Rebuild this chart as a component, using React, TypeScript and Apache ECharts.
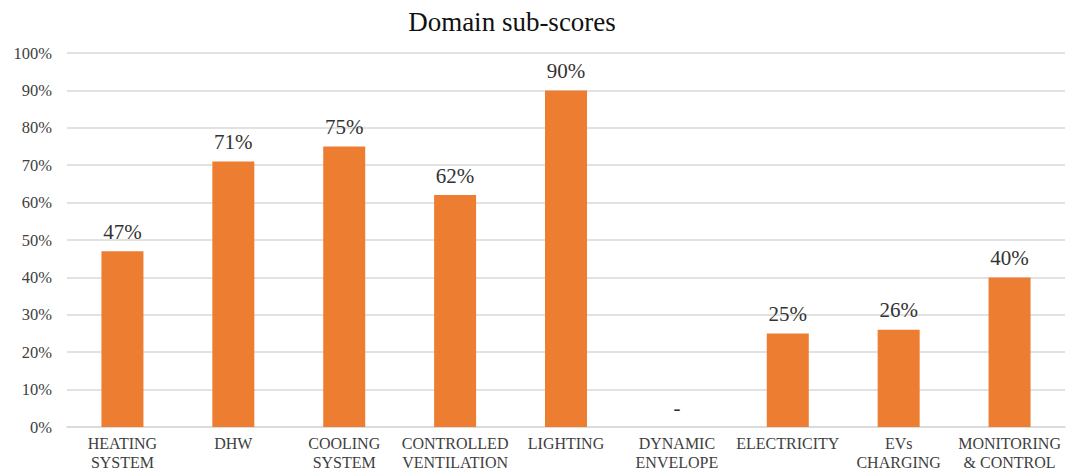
import React, { useEffect, useRef } from "react";
import * as echarts from "echarts";

const categories = [
  "HEATING\nSYSTEM",
  "DHW",
  "COOLING\nSYSTEM",
  "CONTROLLED\nVENTILATION",
  "LIGHTING",
  "DYNAMIC\nENVELOPE",
  "ELECTRICITY",
  "EVs\nCHARGING",
  "MONITORING\n& CONTROL",
];
const scores = [47, 71, 75, 62, 90, 0, 25, 26, 40];
const yTicks = { min: 0, max: 100, interval: 10 };

const FONT = "'Times New Roman', 'Liberation Serif', serif";

export default function App() {
  const ref = useRef<HTMLDivElement>(null);
  useEffect(() => {
    const chart = echarts.init(ref.current!, null, { renderer: "svg" });
    chart.setOption({
      animation: false,
      backgroundColor: "#ffffff",
      textStyle: { fontFamily: FONT },
      title: {
        text: "Domain sub-scores",
        left: 507,
        textAlign: "center",
        top: 3,
        textStyle: { fontFamily: FONT, fontSize: 27, fontWeight: "normal", color: "#111" },
      },
      grid: { left: 67, right: 10, top: 53, bottom: 45, containLabel: false },
      xAxis: {
        type: "category",
        data: categories,
        axisLine: { show: true, lineStyle: { color: "#d9d9d9", width: 1.5 } },
        axisTick: { show: false },
        axisLabel: {
          interval: 0,
          fontFamily: FONT,
          fontSize: 16,
          color: "#404040",
          lineHeight: 19,
          margin: 7,
        },
      },
      yAxis: {
        type: "value",
        min: yTicks.min,
        max: yTicks.max,
        interval: yTicks.interval,
        axisLine: { show: false },
        axisTick: { show: false },
        splitLine: { lineStyle: { color: "#d9d9d9", width: 1.5 } },
        axisLabel: {
          fontFamily: FONT,
          fontSize: 16.5,
          color: "#404040",
          margin: 15,
          formatter: (v: number) => v + "%",
        },
      },
      series: [
        {
          type: "bar",
          data: scores,
          barWidth: 42,
          itemStyle: { color: "#ED7D31" },
          label: {
            show: true,
            position: "top",
            distance: 9,
            fontFamily: FONT,
            fontSize: 21,
            color: "#333",
            formatter: (p: any) => (p.value === 0 ? "-" : p.value + "%"),
          },
        },
      ],
    });
    return () => chart.dispose();
  }, []);
  return (
    <div
      ref={ref}
      style={{ position: "fixed", left: 0, top: 0, width: 1075, height: 472 }}
    />
  );
}
